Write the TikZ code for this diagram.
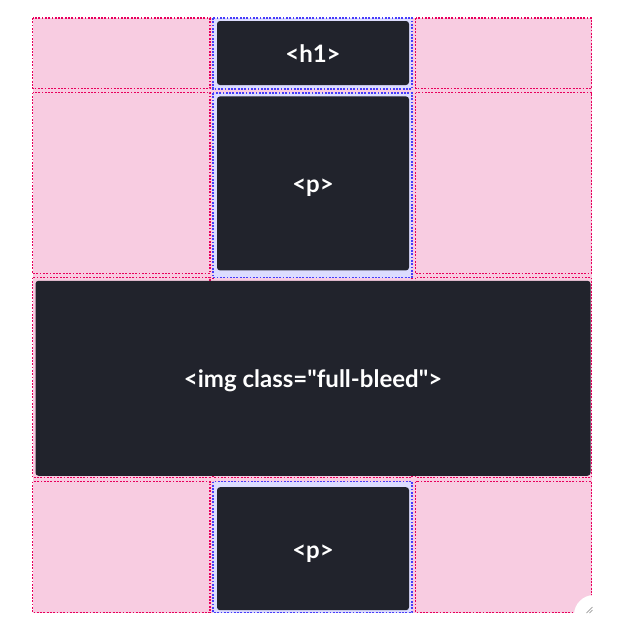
\documentclass[tikz,border=0pt]{standalone}
\usepackage{fontspec}
\newfontfamily\elemfont{Lato}
\usetikzlibrary{positioning}

\definecolor{cellpink}{RGB}{248,204,225}
\definecolor{linepink}{RGB}{232,0,92}
\definecolor{lineblue}{RGB}{72,60,250}
\definecolor{tracklav}{RGB}{220,220,255}
\definecolor{boxdark}{RGB}{33,35,44}

\tikzset{
  gridcell/.style={draw=linepink, line width=1.8pt, dash pattern=on 1.8pt off 1.5pt},
  trackcell/.style={gridcell, draw=lineblue, fill=tracklav},
  elem/.style={fill=boxdark, rounded corners=3pt, text=white, inner sep=0pt,
    font=\elemfont\bfseries\fontsize{24}{28}\selectfont, minimum width=192pt,
    text height=21pt, text depth=2pt},
}

\begin{document}
\begin{tikzpicture}[x=1pt,y=-1pt]
  \useasboundingbox[fill=white] (0,0) rectangle (628,633);
  \fill[cellpink] (32.5,18) rectangle (591.5,612.5);

  % cellules des colonnes latérales
  \foreach \ya/\yb in {18/88.5, 92.5/273.5, 277.5/477.5, 481.5/612.5} {
    \draw[gridcell] (32.5,\ya) rectangle (210,\yb);
    \draw[gridcell] (415.5,\ya) rectangle (591.5,\yb);
  }
  \draw[gridcell] (213,277.5) rectangle (412,477.5);

  % colonne centrale
  \foreach \ya/\yb in {18/89, 93/277.5, 481.5/612.5}
    \draw[trackcell] (213,\ya) rectangle (412,\yb);

  \node[elem, minimum height=64pt] (h1) at (313,53) {<h1>};
  \node[elem, minimum height=174pt, below=11pt of h1] (p1) {<p>};
  \node[elem, minimum width=555pt, minimum height=195pt, below=10pt of p1] (img) {<img class="full-bleed">};
  \node[elem, minimum height=123pt, below=11pt of img] (p2) {<p>};

  % poignée de redimensionnement
  \fill[white] (594,615) circle (20);
  \draw[gray, line width=0.6pt] (586.5,613) -- (592.5,607) (589.5,613) -- (592.5,610);
\end{tikzpicture}
\end{document}
